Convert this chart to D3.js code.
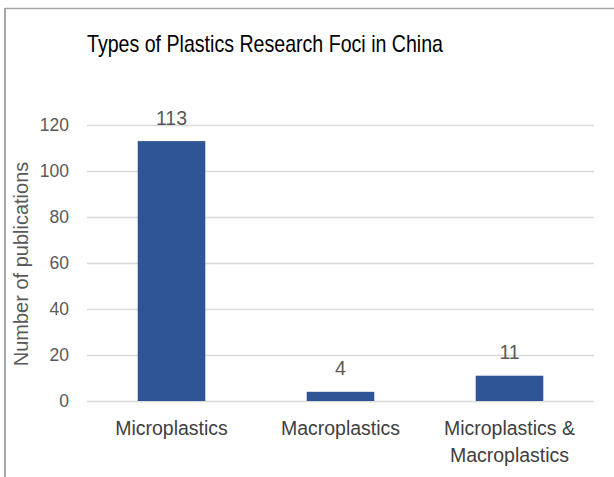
<!DOCTYPE html>
<html>
<head>
<meta charset="utf-8">
<script src="https://cdn.jsdelivr.net/npm/d3@7"></script>
<style>
  html, body { margin: 0; padding: 0; background: #fff; }
  svg { display: block; }
</style>
</head>
<body>
<script>
// Publication counts by plastics research focus
const categories = ["Microplastics", "Macroplastics", "Microplastics & Macroplastics"];
const categoryLines = [["Microplastics"], ["Macroplastics"], ["Microplastics &", "Macroplastics"]];
const publications = [113, 4, 11];
const yTicks = [0, 20, 40, 60, 80, 100, 120];
const titleText = "Types of Plastics Research Foci in China";
const yAxisTitle = "Number of publications";

const W = 614, H = 477;
const svg = d3.select("body").append("svg").attr("width", W).attr("height", H);
const font = "'Liberation Sans', Arial, Helvetica, sans-serif";

// frame edges (top and left)
svg.append("line").attr("x1", 5).attr("x2", W).attr("y1", 8.5).attr("y2", 8.5)
  .attr("stroke", "#a6a6a6").attr("stroke-width", 1.5);
svg.append("line").attr("x1", 5).attr("x2", 5).attr("y1", 8).attr("y2", H)
  .attr("stroke", "#a6a6a6").attr("stroke-width", 2);

const x = d3.scaleBand().domain(categories).range([87, 594]).paddingInner(0.6).paddingOuter(0.3);
const y = d3.scaleLinear().domain([0, 120]).range([401, 125]);

// gridlines
svg.append("g").selectAll("line").data(yTicks).join("line")
  .attr("x1", 87).attr("x2", 594)
  .attr("y1", d => Math.round(y(d)) + 0.5).attr("y2", d => Math.round(y(d)) + 0.5)
  .attr("stroke", "#d9d9d9").attr("stroke-width", 1.5);

// y tick labels
const yAxis = d3.axisLeft(y).tickValues(yTicks).tickSize(0).tickPadding(0);
const gy = svg.append("g").attr("transform", "translate(69,0)").call(yAxis);
gy.select(".domain").remove();
gy.selectAll("text").attr("fill", "#595959").attr("font-size", 17.5).attr("font-family", font);

// bars
svg.append("g").selectAll("rect").data(publications).join("rect")
  .attr("x", (d, i) => x(categories[i]))
  .attr("width", x.bandwidth())
  .attr("y", d => y(d))
  .attr("height", d => y(0) - y(d))
  .attr("fill", "#2f5597");

// value labels
svg.append("g").selectAll("text").data(publications).join("text")
  .attr("x", (d, i) => x(categories[i]) + x.bandwidth() / 2)
  .attr("y", d => y(d) - 16.5)
  .attr("text-anchor", "middle")
  .attr("fill", "#595959").attr("font-size", 19.5).attr("font-family", font)
  .text(d => d);

// category labels
const cg = svg.append("g");
categories.forEach((c, i) => {
  const t = cg.append("text")
    .attr("x", x(c) + x.bandwidth() / 2)
    .attr("y", 435)
    .attr("text-anchor", "middle")
    .attr("fill", "#404040").attr("font-size", 19.5).attr("font-family", font);
  categoryLines[i].forEach((ln, j) => {
    t.append("tspan").attr("x", x(c) + x.bandwidth() / 2).attr("dy", j === 0 ? 0 : 27).text(ln);
  });
});

// y axis title
svg.append("text")
  .attr("transform", "translate(28,264) rotate(-90)")
  .attr("text-anchor", "middle")
  .attr("fill", "#595959").attr("font-size", 20).attr("font-family", font)
  .text(yAxisTitle);

// chart title
svg.append("text")
  .attr("x", 87).attr("y", 52)
  .attr("fill", "#000").attr("font-size", 24).attr("font-family", font)
  .attr("textLength", 356).attr("lengthAdjust", "spacingAndGlyphs")
  .text(titleText);
</script>
</body>
</html>
